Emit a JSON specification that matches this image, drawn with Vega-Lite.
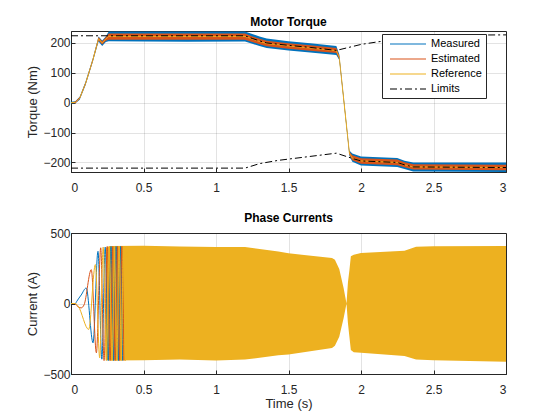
{
  "$schema": "https://vega.github.io/schema/vega-lite/v6.json",
  "padding": {"left": 26, "top": 15, "right": 0, "bottom": 0},
  "background": "white",
  "datasets": {
    "measured": [
      {"t": 0, "lo": -2, "hi": 3}, {"t": 0.03, "lo": -2, "hi": 5}, {"t": 0.06, "lo": 10, "hi": 20},
      {"t": 0.1, "lo": 58, "hi": 70}, {"t": 0.15, "lo": 136, "hi": 148}, {"t": 0.19, "lo": 205, "hi": 222},
      {"t": 0.215, "lo": 190, "hi": 208}, {"t": 0.24, "lo": 203, "hi": 222}, {"t": 0.26, "lo": 206, "hi": 238},
      {"t": 0.5, "lo": 205, "hi": 238}, {"t": 0.8, "lo": 204, "hi": 238}, {"t": 1.2, "lo": 205, "hi": 238},
      {"t": 1.25, "lo": 197, "hi": 230}, {"t": 1.3, "lo": 190, "hi": 222}, {"t": 1.35, "lo": 183, "hi": 215},
      {"t": 1.5, "lo": 175, "hi": 206}, {"t": 1.65, "lo": 168, "hi": 199}, {"t": 1.83, "lo": 160, "hi": 190},
      {"t": 1.85, "lo": 143, "hi": 162}, {"t": 1.92, "lo": -178, "hi": -160}, {"t": 1.94, "lo": -198, "hi": -170},
      {"t": 2.0, "lo": -210, "hi": -180}, {"t": 2.25, "lo": -215, "hi": -185}, {"t": 2.3, "lo": -222, "hi": -194},
      {"t": 2.36, "lo": -230, "hi": -200}, {"t": 3.0, "lo": -232, "hi": -200}
    ],
    "estimated": [
      {"t": 0, "lo": -1, "hi": 1}, {"t": 0.03, "lo": -2, "hi": 4}, {"t": 0.06, "lo": 12, "hi": 18},
      {"t": 0.1, "lo": 60, "hi": 68}, {"t": 0.15, "lo": 138, "hi": 146}, {"t": 0.19, "lo": 208, "hi": 220},
      {"t": 0.215, "lo": 195, "hi": 205}, {"t": 0.24, "lo": 207, "hi": 219}, {"t": 0.26, "lo": 211, "hi": 232},
      {"t": 1.2, "lo": 211, "hi": 232}, {"t": 1.25, "lo": 203, "hi": 222}, {"t": 1.3, "lo": 196, "hi": 214},
      {"t": 1.35, "lo": 189, "hi": 207}, {"t": 1.5, "lo": 181, "hi": 199}, {"t": 1.65, "lo": 174, "hi": 192},
      {"t": 1.83, "lo": 166, "hi": 183}, {"t": 1.85, "lo": 146, "hi": 157}, {"t": 1.92, "lo": -174, "hi": -164},
      {"t": 1.94, "lo": -193, "hi": -176}, {"t": 2.0, "lo": -204, "hi": -186}, {"t": 2.25, "lo": -209, "hi": -190},
      {"t": 2.3, "lo": -216, "hi": -199}, {"t": 2.36, "lo": -224, "hi": -206}, {"t": 3.0, "lo": -226, "hi": -208}
    ],
    "reference": [
      {"t": 0, "v": 0, "series": "Reference"}, {"t": 0.03, "v": 1, "series": "Reference"},
      {"t": 0.06, "v": 15, "series": "Reference"}, {"t": 0.1, "v": 64, "series": "Reference"},
      {"t": 0.15, "v": 142, "series": "Reference"}, {"t": 0.19, "v": 214, "series": "Reference"},
      {"t": 0.215, "v": 200, "series": "Reference"}, {"t": 0.24, "v": 213, "series": "Reference"},
      {"t": 0.26, "v": 222, "series": "Reference"}, {"t": 1.2, "v": 222, "series": "Reference"},
      {"t": 1.25, "v": 213, "series": "Reference"}, {"t": 1.3, "v": 205, "series": "Reference"},
      {"t": 1.35, "v": 198, "series": "Reference"}, {"t": 1.5, "v": 190, "series": "Reference"},
      {"t": 1.65, "v": 183, "series": "Reference"}, {"t": 1.83, "v": 174, "series": "Reference"},
      {"t": 1.85, "v": 152, "series": "Reference"}, {"t": 1.92, "v": -169, "series": "Reference"},
      {"t": 1.94, "v": -185, "series": "Reference"}, {"t": 2.0, "v": -195, "series": "Reference"},
      {"t": 2.25, "v": -200, "series": "Reference"}, {"t": 2.3, "v": -208, "series": "Reference"},
      {"t": 2.36, "v": -215, "series": "Reference"}, {"t": 3.0, "v": -217, "series": "Reference"}
    ],
    "limits": [
      {"t": 0, "v": 224, "part": "up", "series": "Limits"}, {"t": 1.2, "v": 224, "part": "up", "series": "Limits"},
      {"t": 1.25, "v": 215, "part": "up", "series": "Limits"}, {"t": 1.3, "v": 207, "part": "up", "series": "Limits"},
      {"t": 1.35, "v": 200, "part": "up", "series": "Limits"}, {"t": 1.5, "v": 192, "part": "up", "series": "Limits"},
      {"t": 1.65, "v": 185, "part": "up", "series": "Limits"}, {"t": 1.83, "v": 175, "part": "up", "series": "Limits"},
      {"t": 2.0, "v": 195, "part": "up", "series": "Limits"}, {"t": 2.12, "v": 204, "part": "up", "series": "Limits"},
      {"t": 2.3, "v": 214, "part": "up", "series": "Limits"}, {"t": 2.5, "v": 226, "part": "up", "series": "Limits"},
      {"t": 3.0, "v": 227, "part": "up", "series": "Limits"},
      {"t": 0, "v": -219, "part": "low", "series": "Limits"}, {"t": 1.2, "v": -219, "part": "low", "series": "Limits"},
      {"t": 1.3, "v": -204, "part": "low", "series": "Limits"}, {"t": 1.43, "v": -193, "part": "low", "series": "Limits"},
      {"t": 1.83, "v": -169, "part": "low", "series": "Limits"}, {"t": 1.93, "v": -185, "part": "low", "series": "Limits"},
      {"t": 2.0, "v": -195, "part": "low", "series": "Limits"}, {"t": 2.25, "v": -200, "part": "low", "series": "Limits"},
      {"t": 2.3, "v": -208, "part": "low", "series": "Limits"}, {"t": 2.36, "v": -215, "part": "low", "series": "Limits"},
      {"t": 3.0, "v": -217, "part": "low", "series": "Limits"}
    ],
    "envelope": [
      {"t": 0.24, "lo": -400, "hi": 395}, {"t": 0.27, "lo": -405, "hi": 408}, {"t": 0.5, "lo": -402, "hi": 410},
      {"t": 0.75, "lo": -398, "hi": 405}, {"t": 1.0, "lo": -405, "hi": 400}, {"t": 1.2, "lo": -398, "hi": 400},
      {"t": 1.43, "lo": -367, "hi": 369}, {"t": 1.5, "lo": -362, "hi": 356}, {"t": 1.8, "lo": -315, "hi": 322},
      {"t": 1.82, "lo": -300, "hi": 310}, {"t": 1.85, "lo": -235, "hi": 245}, {"t": 1.88, "lo": -105, "hi": 110},
      {"t": 1.9, "lo": 0, "hi": 0}, {"t": 1.91, "lo": -140, "hi": 150}, {"t": 1.92, "lo": -235, "hi": 235},
      {"t": 1.93, "lo": -330, "hi": 335}, {"t": 1.95, "lo": -345, "hi": 345}, {"t": 2.0, "lo": -350, "hi": 358},
      {"t": 2.3, "lo": -372, "hi": 375}, {"t": 2.38, "lo": -398, "hi": 402}, {"t": 2.5, "lo": -402, "hi": 406},
      {"t": 3.0, "lo": -413, "hi": 408}
    ],
    "phaseA": [
      {"t": 0, "v": 0}, {"t": 0.03, "v": 0}, {"t": 0.04, "v": 16}, {"t": 0.07, "v": 60}, {"t": 0.105, "v": 110},
      {"t": 0.152, "v": -279}, {"t": 0.186, "v": 370}, {"t": 0.213, "v": -395}, {"t": 0.236, "v": 400},
      {"t": 0.257, "v": -405}, {"t": 0.276, "v": 405}, {"t": 0.294, "v": -405}, {"t": 0.311, "v": 405},
      {"t": 0.327, "v": -405}, {"t": 0.342, "v": 405}, {"t": 0.356, "v": -405}
    ],
    "phaseB": [
      {"t": 0, "v": 0}, {"t": 0.03, "v": 0}, {"t": 0.04, "v": -15}, {"t": 0.07, "v": -31}, {"t": 0.09, "v": -10},
      {"t": 0.14, "v": 240}, {"t": 0.175, "v": -350}, {"t": 0.205, "v": 395}, {"t": 0.228, "v": -405},
      {"t": 0.25, "v": 405}, {"t": 0.27, "v": -405}, {"t": 0.288, "v": 405}, {"t": 0.305, "v": -405},
      {"t": 0.321, "v": 405}, {"t": 0.336, "v": -405}, {"t": 0.351, "v": 405}, {"t": 0.365, "v": -405}
    ],
    "phaseC": [
      {"t": 0, "v": 0}, {"t": 0.03, "v": 0}, {"t": 0.05, "v": -20}, {"t": 0.122, "v": -184}, {"t": 0.168, "v": 276},
      {"t": 0.198, "v": -385}, {"t": 0.222, "v": 400}, {"t": 0.244, "v": -405}, {"t": 0.264, "v": 405},
      {"t": 0.283, "v": -405}, {"t": 0.3, "v": 405}, {"t": 0.316, "v": -405}, {"t": 0.332, "v": 405},
      {"t": 0.347, "v": -405}, {"t": 0.361, "v": 405}, {"t": 0.375, "v": -405}, {"t": 0.388, "v": 405}
    ]
  },
  "spacing": 17,
  "vconcat": [
    {
      "title": "Motor Torque",
      "width": 435,
      "height": 141,
      "encoding": {
        "x": {"field": "t", "type": "quantitative", "scale": {"domain": [0, 3], "nice": false},
              "axis": {"title": null, "values": [0, 0.5, 1, 1.5, 2, 2.5, 3], "format": "~g", "labelPadding": 14}}
      },
      "layer": [
        {
          "data": {"name": "measured"},
          "mark": {"type": "area", "clip": true, "color": "#0072BD"},
          "encoding": {
            "y": {"field": "lo", "type": "quantitative", "scale": {"domain": [-232, 240], "nice": false, "zero": false},
                  "axis": {"title": "Torque (Nm)", "values": [-200, -100, 0, 100, 200]}},
            "y2": {"field": "hi"}
          }
        },
        {
          "data": {"name": "estimated"},
          "mark": {"type": "area", "clip": true, "color": "#D95319"},
          "encoding": {
            "y": {"field": "lo", "type": "quantitative",
                  "axis": {"title": "Torque (Nm)", "values": [-200, -100, 0, 100, 200]}},
            "y2": {"field": "hi"}
          }
        },
        {
          "data": {"name": "reference"},
          "mark": {"type": "line", "clip": true, "strokeWidth": 1},
          "encoding": {
            "y": {"field": "v", "type": "quantitative",
                  "axis": {"title": "Torque (Nm)", "values": [-200, -100, 0, 100, 200]}},
            "color": {"field": "series", "type": "nominal", "title": null,
                      "scale": {"domain": ["Measured", "Estimated", "Reference", "Limits"],
                                "range": ["#0072BD", "#D95319", "#EDB120", "#000000"]}},
            "strokeDash": {"field": "series", "type": "nominal", "title": null,
                           "scale": {"domain": ["Measured", "Estimated", "Reference", "Limits"],
                                     "range": [[1, 0], [1, 0], [1, 0], [7, 3, 2, 3]]}}
          }
        },
        {
          "data": {"name": "limits"},
          "mark": {"type": "line", "clip": true, "strokeWidth": 1},
          "encoding": {
            "y": {"field": "v", "type": "quantitative",
                  "axis": {"title": "Torque (Nm)", "values": [-200, -100, 0, 100, 200]}},
            "detail": {"field": "part"},
            "color": {"field": "series", "type": "nominal", "title": null},
            "strokeDash": {"field": "series", "type": "nominal", "title": null}
          }
        }
      ]
    },
    {
      "title": "Phase Currents",
      "width": 435,
      "height": 141,
      "encoding": {
        "x": {"field": "t", "type": "quantitative", "scale": {"domain": [0, 3], "nice": false},
              "axis": {"title": "Time (s)", "values": [0, 0.5, 1, 1.5, 2, 2.5, 3], "format": "~g", "labelPadding": 14, "titlePadding": 2}}
      },
      "layer": [
        {
          "data": {"name": "envelope"},
          "mark": {"type": "area", "clip": true, "color": "#EDB120"},
          "encoding": {
            "y": {"field": "lo", "type": "quantitative", "scale": {"domain": [-500, 500], "nice": false},
                  "axis": {"title": "Current (A)", "values": [-500, 0, 500]}},
            "y2": {"field": "hi"}
          }
        },
        {
          "data": {"name": "phaseA"},
          "mark": {"type": "line", "clip": true, "color": "#0072BD", "strokeWidth": 1, "interpolate": "monotone"},
          "encoding": {"y": {"field": "v", "type": "quantitative", "axis": {"title": "Current (A)", "values": [-500, 0, 500]}}}
        },
        {
          "data": {"name": "phaseB"},
          "mark": {"type": "line", "clip": true, "color": "#D95319", "strokeWidth": 1, "interpolate": "monotone"},
          "encoding": {"y": {"field": "v", "type": "quantitative", "axis": {"title": "Current (A)", "values": [-500, 0, 500]}}}
        },
        {
          "data": {"name": "phaseC"},
          "mark": {"type": "line", "clip": true, "color": "#EDB120", "strokeWidth": 1, "interpolate": "monotone"},
          "encoding": {"y": {"field": "v", "type": "quantitative", "axis": {"title": "Current (A)", "values": [-500, 0, 500]}}}
        }
      ]
    }
  ],
  "config": {
    "font": "Liberation Sans",
    "view": {"stroke": "#262626", "strokeWidth": 1},
    "axis": {
      "labelFont": "Liberation Sans", "labelFontSize": 12, "labelColor": "#262626", "labelOverlap": false,
      "titleFont": "Liberation Sans", "titleFontSize": 13, "titleFontWeight": "normal", "titleColor": "#262626",
      "domainColor": "#262626", "tickColor": "#262626", "tickSize": -4, "labelPadding": 5, "titlePadding": 3,
      "gridColor": "#262626", "gridOpacity": 0.13
    },
    "title": {"font": "Liberation Sans", "fontSize": 12, "fontWeight": "bold", "color": "#000000", "offset": 2},
    "legend": {
      "orient": "none", "legendX": 311, "legendY": 3,
      "strokeColor": "#262626", "fillColor": "white", "padding": 4,
      "symbolType": "M-0.4,0H6.8", "symbolSize": 100, "symbolStrokeWidth": 1.2,
      "labelFont": "Liberation Sans", "labelFontSize": 11, "labelColor": "#000000",
      "rowPadding": 4, "labelOffset": 33
    }
  }
}
